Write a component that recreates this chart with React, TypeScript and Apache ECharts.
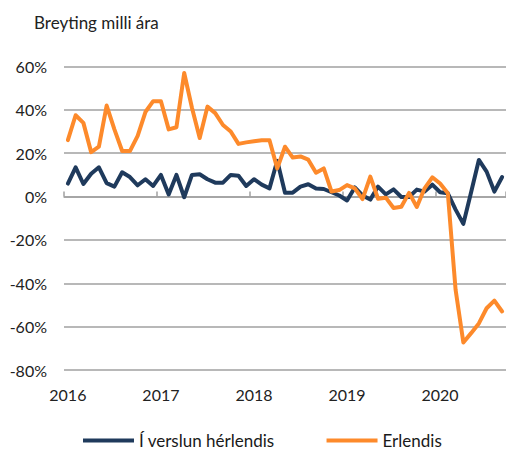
import React, { useEffect, useRef } from "react";
import * as echarts from "echarts";

const years = ["2016", "2017", "2018", "2019", "2020"];
const months: string[] = [];
for (const y of years) {
  for (let m = 1; m <= 12; m++) {
    months.push(`${y}-${String(m).padStart(2, "0")}`);
  }
}
const categories = months.slice(0, 57);

const herlendis = [
  6, 13.5, 5.8, 10.5, 13.5, 6.2, 4.6, 11.2, 9, 5.2, 8, 4.9,
  10, 1, 10, -0.3, 10, 10.3, 8, 6.4, 6.4, 10, 9.6, 4.9,
  8, 5.5, 3.8, 16.5, 1.8, 1.8, 4.6, 5.7, 3.7, 3.5, 2, 0.5,
  -1.8, 4.2, 0.5, -1.4, 4.6, 1, 3.3, -0.2, -0.2, 3.2, 2.3, 5.5,
  2, 1.5, -6, -12.6, 2, 16.9, 11.5, 2.3, 9,
];

const erlendis = [
  26, 37.5, 34, 20.5, 23, 42, 31, 21, 21, 28, 39, 44,
  44, 31, 32, 57, 41, 27, 41.5, 38.5, 33, 30, 24.3, 25,
  25.5, 26, 26, 13, 23, 18, 18.5, 17, 11, 13, 2.3, 3,
  5.3, 3.8, -1.2, 9.2, -1, -0.5, -5.3, -4.7, 1.7, -4.8, 3.8, 8.9,
  6, 1.5, -43, -67.3, -63, -58.5, -51.5, -48, -53,
];

const seriesNames = ["Í verslun hérlendis", "Erlendis"];
const colors = ["#1f3a5c", "#fd8a2b"];
const title = "Breyting milli ára";

export default function App() {
  const ref = useRef<HTMLDivElement>(null);
  useEffect(() => {
    if (!ref.current) return;
    const chart = echarts.init(ref.current, undefined, { renderer: "svg" });
    const font = "Lato";
    chart.setOption({
      animation: false,
      textStyle: { fontFamily: font },
      title: {
        text: title,
        left: 34,
        top: 14,
        padding: 0,
        textStyle: { fontFamily: font, fontSize: 17, fontWeight: "normal", color: "#222" },
      },
      legend: {
        left: 83,
        top: 432,
        padding: 0,
        itemWidth: 51,
        itemHeight: 4,
        itemGap: 52,
        icon: "rect",
        textStyle: { fontFamily: font, fontSize: 17, color: "#1a1a1a" },
        data: seriesNames,
      },
      grid: { left: 64, top: 66.5, height: 303.5, width: 448.6 },
      xAxis: [
        {
          type: "category",
          data: categories,
          boundaryGap: true,
          position: "bottom",
          axisLine: { show: false, onZero: false },
          axisTick: { show: false },
          axisLabel: {
            interval: 11,
            margin: 16,
            fontFamily: font,
            fontSize: 16,
            color: "#222",
            formatter: (v: string) => v.slice(0, 4),
          },
          splitLine: { show: false },
        },
        {
          type: "category",
          data: categories,
          boundaryGap: true,
          position: "bottom",
          axisLine: { show: true, onZero: true, lineStyle: { color: "#a0a0a0", width: 1.5 } },
          axisTick: {
            show: true,
            inside: true,
            length: 5,
            interval: 11,
            alignWithLabel: false,
            lineStyle: { color: "#a0a0a0", width: 1.5 },
          },
          axisLabel: { show: false },
          splitLine: { show: false },
        },
      ],
      yAxis: {
        type: "value",
        min: -80,
        max: 60,
        interval: 20,
        axisLine: { show: false },
        axisTick: { show: false },
        axisLabel: {
          margin: 17,
          fontFamily: font,
          fontSize: 16,
          color: "#222",
          formatter: (v: number) => `${v}%`,
        },
        splitLine: { show: true, lineStyle: { color: "#a0a0a0", width: 1.5 } },
      },
      series: [
        {
          name: seriesNames[0],
          type: "line",
          data: herlendis,
          xAxisIndex: 0,
          showSymbol: false,
          color: colors[0],
          lineStyle: { width: 4, color: colors[0], cap: "round", join: "round" },
          z: 3,
        },
        {
          name: seriesNames[1],
          type: "line",
          data: erlendis,
          xAxisIndex: 0,
          showSymbol: false,
          color: colors[1],
          lineStyle: { width: 4, color: colors[1], cap: "round", join: "round" },
          z: 4,
        },
      ],
    });
    return () => chart.dispose();
  }, []);
  return (
    <div
      ref={ref}
      style={{ position: "absolute", left: 0, top: 0, width: 506, height: 450, overflow: "hidden" }}
    />
  );
}
